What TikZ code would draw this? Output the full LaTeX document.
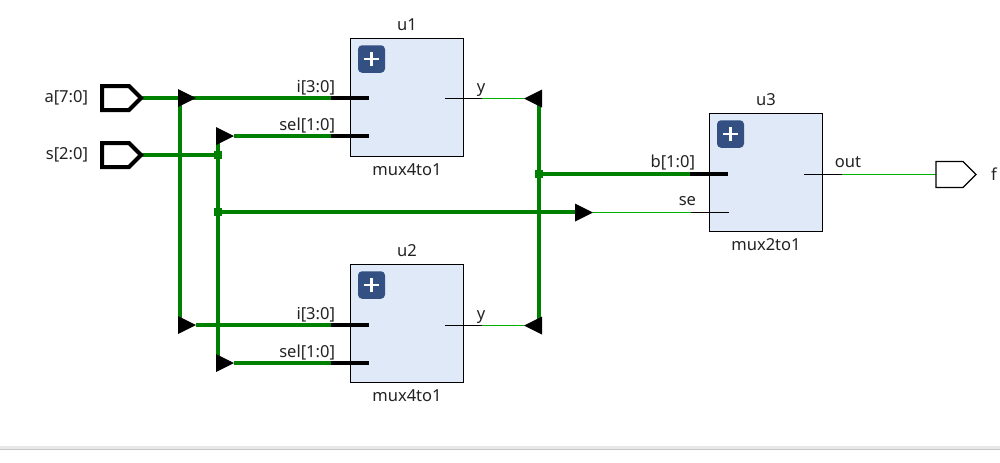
\documentclass[tikz,border=0pt]{standalone}
\usepackage{fontspec}
\setmainfont{Noto Sans}
\usetikzlibrary{positioning,backgrounds,shapes.geometric,shapes.symbols}

\definecolor{busgreen}{HTML}{008000}
\definecolor{netgreen}{HTML}{00B000}
\definecolor{blockblue}{HTML}{DFE9F7}
\definecolor{btnblue}{HTML}{344F81}
\definecolor{inktext}{HTML}{222222}

\tikzset{
  block/.style={draw, line width=1, fill=blockblue, minimum width=113*.75pt, minimum height=118*.75pt, inner sep=0pt, outer sep=0pt},
  btn/.style={fill=btnblue, rounded corners=3pt, minimum width=27*.75pt, minimum height=27.5*.75pt, inner sep=0pt,
    path picture={
      \draw[white, line width=1.9] (path picture bounding box.center) ++(-5.5pt,0) -- ++(11pt,0);
      \draw[white, line width=1.9] (path picture bounding box.center) ++(0,-5.5pt) -- ++(0,11pt);
    }},
  txt/.style={font=\fontsize{12.4pt}{14pt}\selectfont, text=inktext, inner sep=0pt, outer sep=0pt},
  bus/.style={busgreen, line width=3},
  net/.style={netgreen, line width=.9},
  buspin/.style={black, line width=3},
  netpin/.style={black, line width=.9},
  dot/.style={fill=busgreen, minimum size=6pt, inner sep=0pt, outer sep=0pt},
  tri/.style={isosceles triangle, isosceles triangle stretches, fill=black, minimum height=18*.75pt, minimum width=18*.75pt, inner sep=0pt, outer sep=0pt, anchor=apex},
  trileft/.style={tri, shape border rotate=180},
  port/.style={signal, signal to=east, signal pointer angle=90, draw, inner sep=0pt, outer sep=0pt, anchor=east},
  inport/.style={port, line width=3, minimum width=39*.75pt, minimum height=24*.75pt},
  outport/.style={port, line width=.9, minimum width=40*.75pt, minimum height=26*.75pt}
}

\begin{document}
\begin{tikzpicture}[x=.75pt, y=-.75pt]
    \useasboundingbox (0,0) rectangle (1000,462);
    \fill[black!9] (0,446) rectangle (1000,449);
    \fill[black!22] (0,449) rectangle (1000,450);

    \node[inport] (a) at (141,98) {};
    \node[inport] (s) at (141,155) {};
    \node[txt, left=14*.75pt of a] (alabel) {a[7:0]};
    \node[txt, left=14*.75pt of s] (slabel) {s[2:0]};

    \node[block] (u1) at (407,97.5) {};
    \node[block] (u2) at (407,323.5) {};
    \node[block] (u3) at (766,172.5) {};
    \node[btn] (btn1) at (371.5,59) {};
    \node[btn] (btn2) at (371.5,285) {};
    \node[btn] (btn3) at (730.5,134) {};

    \node[txt, above=6pt of u1] (u1name) {u1};
    \node[txt, above=6pt of u2] (u2name) {u2};
    \node[txt, above=6pt of u3] (u3name) {u3};
    \node[txt, below=5pt of u1] (u1type) {mux4to1};
    \node[txt, below=5pt of u2] (u2type) {mux4to1};
    \node[txt, below=5pt of u3] (u3type) {mux2to1};

    \coordinate (u1i) at (331,98);
    \coordinate (u1iend) at (369,98);
    \coordinate (u1sel) at (331,136);
    \coordinate (u1selend) at (369,136);
    \coordinate (u1y) at (482,98.5);
    \coordinate (u1yend) at (445,98.5);
    \coordinate (u2i) at (331,325);
    \coordinate (u2iend) at (369,325);
    \coordinate (u2sel) at (331,363);
    \coordinate (u2selend) at (369,363);
    \coordinate (u2y) at (482,325.5);
    \coordinate (u2yend) at (445,325.5);
    \coordinate (u3b) at (690,174);
    \coordinate (u3bend) at (728,174);
    \coordinate (u3se) at (691,212.5);
    \coordinate (u3seend) at (729,212.5);
    \coordinate (u3out) at (842,174.5);
    \coordinate (u3outend) at (804,174.5);
    \coordinate (abustop) at (180,98);
    \coordinate (abusbot) at (180,325);
    \coordinate (sbustop) at (218,136);
    \coordinate (sbusbot) at (218,363);
    \coordinate (ybustop) at (539,98.5);
    \coordinate (ybusbot) at (539,325.5);

    \node[outport] (f) at (976,174.5) {};
    \node[txt, right=15*.75pt of f] (flabel) {f};

    \node[tri] (ta1) at (196,98) {};
    \node[tri] (ta2) at (196,325) {};
    \node[tri] (ts1) at (234,136) {};
    \node[tri] (ts2) at (234,363) {};
    \node[tri] (tse) at (593,212.5) {};
    \node[trileft] (ty1) at (524,98.5) {};
    \node[trileft] (ty2) at (524,325.5) {};

    \node[dot] (ja) at (218,155) {};
    \node[dot] (jse) at (218,212) {};
    \node[dot] (jb) at (539,174) {};

    \begin{scope}[on background layer]
    \draw[bus] (a.east) -- (ta1.apex) -- (u1i);
    \draw[bus] (abustop) -- (abusbot);
    \draw[bus] (ta2.apex) -- (u2i);
    \draw[bus] (s.east) -- (ja);
    \draw[bus] (sbustop) -- (sbusbot);
    \draw[bus] (ts1.apex) -- (u1sel);
    \draw[bus] (ts2.apex) -- (u2sel);
    \draw[bus] (jse) -- (jse -| tse);
    \draw[bus] (ybustop) -- (ybusbot);
    \draw[bus] (jb) -- (u3b);
    \draw[net] (u1y) -- (ty1.apex);
    \draw[net] (u2y) -- (ty2.apex);
    \draw[net] (tse.apex) -- (u3se);
    \draw[net] (u3out) -- (f.west);
    \end{scope}

    \draw[buspin] (u1i) -- (u1iend);
    \draw[buspin] (u1sel) -- (u1selend);
    \draw[buspin] (u2i) -- (u2iend);
    \draw[buspin] (u2sel) -- (u2selend);
    \draw[buspin] (u3b) -- (u3bend);
    \draw[netpin] (u1yend) -- (u1y);
    \draw[netpin] (u2yend) -- (u2y);
    \draw[netpin] (u3se) -- (u3seend);
    \draw[netpin] (u3outend) -- (u3out);

    \node[txt, anchor=base east] (u1ilabel) at (335,92) {i[3:0]};
    \node[txt, anchor=base east] (u1sellabel) at (335,130) {sel[1:0]};
    \node[txt, anchor=base] (u1ylabel) at (481,92) {y};
    \node[txt, anchor=base east] (u2ilabel) at (335,319) {i[3:0]};
    \node[txt, anchor=base east] (u2sellabel) at (335,357) {sel[1:0]};
    \node[txt, anchor=base] (u2ylabel) at (481,319) {y};
    \node[txt, anchor=base east] (u3blabel) at (695,167) {b[1:0]};
    \node[txt, anchor=base east] (u3selabel) at (696,205) {se};
    \node[txt, anchor=base] (u3outlabel) at (848,167) {out};
\end{tikzpicture}
\end{document}
